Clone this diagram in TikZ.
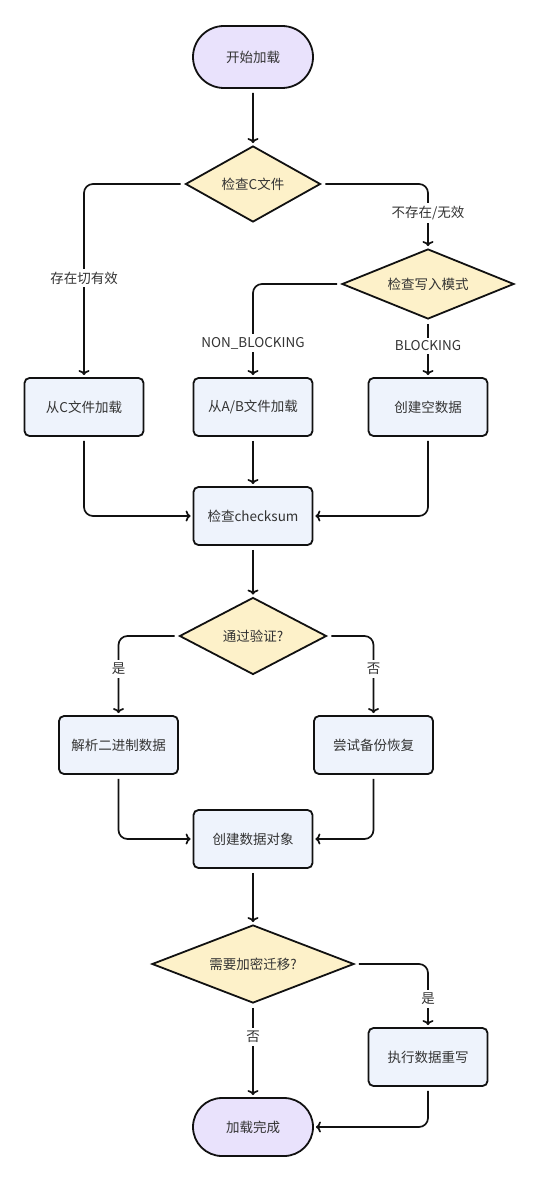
\documentclass[tikz,border=0pt]{standalone}
\usepackage{fontspec}
\setmainfont{Noto Sans CJK SC}
\usepackage{tikz}
\usetikzlibrary{shapes,arrows,positioning,arrows.meta}
\usetikzlibrary{backgrounds}
\definecolor{termfill}{HTML}{E9E2FC}
\definecolor{decfill}{HTML}{FDF1C9}
\definecolor{procfill}{HTML}{EEF3FC}
\definecolor{inkline}{HTML}{111111}
\definecolor{inktext}{HTML}{333333}
\begin{document}
\begin{tikzpicture}[x=1pt,y=1pt,yscale=-1,xscale=1,
  font=\fontsize{13.5}{16}\selectfont, text=inktext,
  term/.style={rounded rectangle, draw=inkline, line width=1.8pt, fill=termfill, minimum width=120pt, minimum height=62pt, inner sep=0pt},
  decide/.style={diamond, draw=inkline, line width=1.8pt, fill=decfill, aspect=2, inner sep=0pt},
  proc/.style={rectangle, rounded corners=5pt, draw=inkline, line width=1.8pt, fill=procfill, minimum width=119pt, minimum height=58pt, inner sep=0pt},
  flow/.style={draw=inkline, line width=1.7pt, rounded corners=9pt, shorten <=4pt, shorten >=2pt, -{To[length=5pt,width=11pt,line width=1.7pt]}},
  lbl/.style={fill=white, inner sep=3pt}]
\useasboundingbox (0,0) rectangle (539,1182);

%Shape: Terminal [id:start]
\node[term] (start) at (253,57) {开始加载};
%Shape: Diamond [id:chkC]
\node[decide, minimum width=135pt, minimum height=76pt] (chkC) at (253,184) {检查C文件};
%Shape: Diamond [id:chkMode]
\node[decide, minimum width=172pt, minimum height=70pt] (chkMode) at (428,284) {检查写入模式};
%Shape: Rectangle [id:loadC]
\node[proc] (loadC) at (84,407) {从C文件加载};
%Shape: Rectangle [id:loadAB]
\node[proc] (loadAB) at (253,407) {从A/B文件加载};
%Shape: Rectangle [id:mkEmpty]
\node[proc] (mkEmpty) at (428,407) {创建空数据};
%Shape: Rectangle [id:chkSum]
\node[proc] (chkSum) at (253,516) {检查checksum};
%Shape: Diamond [id:passed]
\node[decide, minimum width=147pt, minimum height=77pt] (passed) at (253,636) {通过验证?};
%Shape: Rectangle [id:parse]
\node[proc] (parse) at (118.5,745) {解析二进制数据};
%Shape: Rectangle [id:backup]
\node[proc] (backup) at (373.5,745) {尝试备份恢复};
%Shape: Rectangle [id:mkObj]
\node[proc] (mkObj) at (253,839) {创建数据对象};
%Shape: Diamond [id:migrate]
\node[decide, minimum width=202pt, minimum height=78pt] (migrate) at (253,964) {需要加密迁移?};
%Shape: Rectangle [id:rewrite]
\node[proc] (rewrite) at (428,1057) {执行数据重写};
%Shape: Terminal [id:done]
\node[term, minimum height=58pt] (done) at (253,1127) {加载完成};

%Straight Lines
\draw[flow] (start) -- (chkC);
\draw[flow] (chkC.west) -| (loadC.north);
\draw[flow] (chkC.east) -| (chkMode.north);
\draw[flow] (chkMode.west) -| (loadAB.north);
\draw[flow] (chkMode) -- (mkEmpty);
\draw[flow] (loadC.south) |- (chkSum.west);
\draw[flow] (loadAB) -- (chkSum);
\draw[flow] (mkEmpty.south) |- (chkSum.east);
\draw[flow] (chkSum) -- (passed);
\draw[flow] (passed.west) -| (parse.north);
\draw[flow] (passed.east) -| (backup.north);
\draw[flow] (parse.south) |- (mkObj.west);
\draw[flow] (backup.south) |- (mkObj.east);
\draw[flow] (mkObj) -- (migrate);
\draw[flow] (migrate.east) -| (rewrite.north);
\draw[flow] (migrate) -- (done);
\draw[flow] (rewrite.south) |- (done.east);

% Text Node
\node[lbl] (lExist) at (84,278) {存在切有效};
% Text Node
\node[lbl] (lMissing) at (428,213) {不存在/无效};
% Text Node
\node[lbl] (lNonBlk) at (253,343) {NON\_BLOCKING};
% Text Node
\node[lbl] (lBlk) at (428,346) {BLOCKING};
% Text Node
\node[lbl] (lPassYes) at (118.5,669) {是};
% Text Node
\node[lbl] (lPassNo) at (373.5,669) {否};
% Text Node
\node[lbl] (lMigYes) at (428,999) {是};
% Text Node
\node[lbl] (lMigNo) at (253,1037) {否};
\end{tikzpicture}
\end{document}
